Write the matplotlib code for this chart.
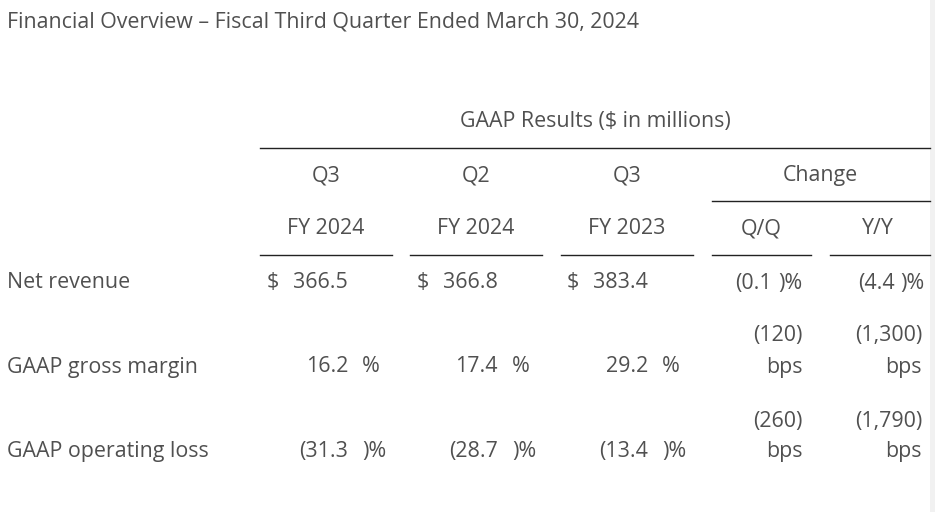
import matplotlib.pyplot as plt

# table content
title = "Financial Overview \u2013 Fiscal Third Quarter Ended March 30, 2024"
group_title = "GAAP Results ($ in millions)"
period_top = ["Q3", "Q2", "Q3"]
period_bottom = ["FY 2024", "FY 2024", "FY 2023"]
change_labels = ["Q/Q", "Y/Y"]
row_labels = ["Net revenue", "GAAP gross margin", "GAAP operating loss"]

net_revenue = [366.5, 366.8, 383.4]
gross_margin = [16.2, 17.4, 29.2]
operating_loss = [-31.3, -28.7, -13.4]

revenue_change_pct = [-0.1, -4.4]
gross_margin_change_bps = [-120, -1300]
operating_loss_change_bps = [-260, -1790]


def paren(v, fmt="{:.1f}"):
    s = fmt.format(abs(v))
    return "(" + s if v < 0 else s


def bps(v):
    s = "{:,}".format(abs(v))
    return "(" + s + ")" if v < 0 else s


plt.rcParams['font.family'] = ['Open Sans', 'DejaVu Sans']
txt = "#505050"
fs = 15.4
dy = 2  # nudge text down a little

fig = plt.figure(figsize=(9.35, 5.12), dpi=100)
ax = fig.add_axes([0, 0, 1, 1])
ax.set_xlim(0, 935)
ax.set_ylim(512, 0)
ax.axis("off")


def put(x, y, s, ha="center"):
    ax.text(x, y + dy, s, fontsize=fs, color=txt, ha=ha, va="center")


# faint strip at the right edge
ax.axvspan(930, 935, color="#f1f1f1", lw=0)

put(7, 20, title, ha="left")
put(595, 120, group_title)

# rules
line_kw = dict(color="#222222", lw=1)
ax.plot([260, 930], [148, 148], **line_kw)
ax.plot([712, 930], [201, 201], **line_kw)
col_x = [326, 476, 627]
for cx in col_x:
    ax.plot([cx - 66, cx + 66], [255, 255], **line_kw)
ax.plot([712, 811], [255, 255], **line_kw)
ax.plot([830, 930], [255, 255], **line_kw)

# headers
for cx, top, bot in zip(col_x, period_top, period_bottom):
    put(cx, 174, top)
    put(cx, 227, bot)
put(820, 174, "Change")
for cx, lab in zip([761, 878], change_labels):
    put(cx, 227, lab)

row_y = [281, 365, 450]
for y, lab in zip(row_y, row_labels):
    put(7, y, lab, ha="left")

# period values
for i in range(3):
    right = 348 + 150 * i
    suffix = 362 + 150 * i
    put(267 + 150 * i, row_y[0], "$", ha="left")
    put(right, row_y[0], "{:.1f}".format(net_revenue[i]), ha="right")
    put(right, row_y[1], paren(gross_margin[i]), ha="right")
    put(suffix, row_y[1], ")%" if gross_margin[i] < 0 else "%", ha="left")
    put(right, row_y[2], paren(operating_loss[i]), ha="right")
    put(suffix, row_y[2], ")%" if operating_loss[i] < 0 else "%", ha="left")

# change values
for j, (num_right, suf_left, bps_right) in enumerate([(772, 778, 803), (895, 900, 922)]):
    put(num_right, row_y[0], paren(revenue_change_pct[j]), ha="right")
    put(suf_left, row_y[0], ")%" if revenue_change_pct[j] < 0 else "%", ha="left")
    put(bps_right, 334, bps(gross_margin_change_bps[j]), ha="right")
    put(bps_right, row_y[1], "bps", ha="right")
    put(bps_right, 419, bps(operating_loss_change_bps[j]), ha="right")
    put(bps_right, row_y[2], "bps", ha="right")

fig.savefig("out.png", dpi=100)
plt.close(fig)
